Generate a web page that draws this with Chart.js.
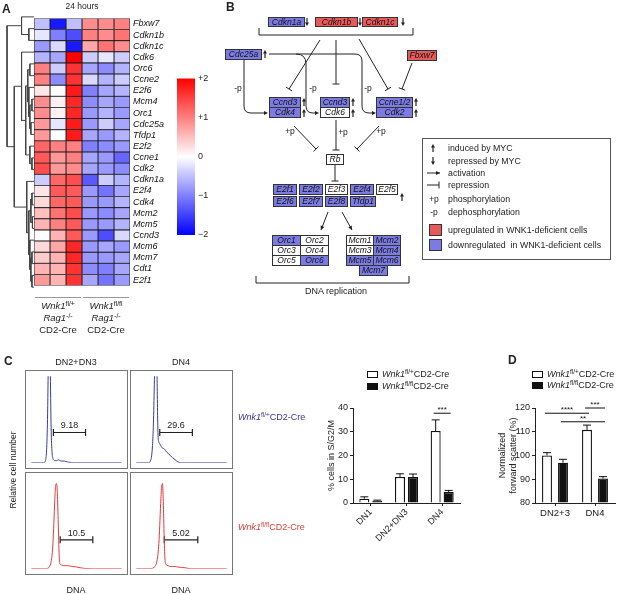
<!DOCTYPE html>
<html>
<head>
<meta charset="utf-8">
<title>WNK1 cell cycle figure</title>
<script src="https://cdn.jsdelivr.net/npm/chart.js@4.4.1/dist/chart.umd.min.js"></script>
<style>
  body { margin: 0; background: #fff; }
  #fig { position: relative; width: 617px; height: 594px; overflow: hidden; font-family: "Liberation Sans", Arial, sans-serif; color: #222; }
  #fig canvas { position: absolute; }
  .t { position: absolute; white-space: nowrap; font-size: 9px; line-height: 1; }
  .t i { font-style: italic; }
  sup { font-size: 0.72em; vertical-align: 0.45em; line-height: 0; }
  .bx { position: absolute; box-sizing: border-box; border: 1px solid #333; font-style: italic; font-size: 8.5px; text-align: center; color: #111; white-space: nowrap; }
  .hbox { position: absolute; box-sizing: border-box; border: 1px solid #777; }
  .sq { position: absolute; box-sizing: border-box; border: 1px solid #111; }
  .rule { position: absolute; border-top: 1.5px solid #999; height: 0; }
</style>
</head>
<body>
<div id="fig">
  <canvas id="dendro" width="28" height="282" style="left:6px;top:11px"></canvas>
  <canvas id="heat" width="157" height="284" style="left:33px;top:10px"></canvas>
  <canvas id="cbar" width="45" height="175" style="left:170px;top:70px"></canvas>

  <div class="hbox" style="left:25px;top:370px;width:103px;height:99px"></div>
  <div class="hbox" style="left:130px;top:370px;width:103px;height:99px"></div>
  <div class="hbox" style="left:25px;top:472px;width:103px;height:103px"></div>
  <div class="hbox" style="left:130px;top:472px;width:103px;height:103px"></div>
  <canvas id="h1" width="101" height="97" style="left:26px;top:371px"></canvas>
  <canvas id="h2" width="101" height="97" style="left:131px;top:371px"></canvas>
  <canvas id="h3" width="101" height="101" style="left:26px;top:473px"></canvas>
  <canvas id="h4" width="101" height="101" style="left:131px;top:473px"></canvas>

  <canvas id="cbars" width="144" height="150" style="left:326px;top:395px"></canvas>
  <canvas id="dbars" width="120" height="130" style="left:497px;top:395px"></canvas>
  <svg id="diag" width="617" height="594" style="position:absolute;left:0;top:0"></svg>
</div>
<script>
/* [ Data ] */
var genes = ['Fbxw7','Cdkn1b','Cdkn1c','Cdk6','Orc6','Ccne2','E2f6','Mcm4','Orc1','Cdc25a','Tfdp1','E2f2',
             'Ccne1','Cdk2','Cdkn1a','E2f4','Cdk4','Mcm2','Mcm5','Ccnd3','Mcm6','Mcm7','Cdt1','E2f1'];
var ctrl1 = [-0.5,-0.2,-0.8,-0.6,1.0,1.0,0.2,0.9,0.9,0.8,0.8,1.2,1.3,1.4,-0.4,0.2,0.3,0.5,0.6,0.0,0.3,0.4,0.6,0.8];
var ctrl2 = [-1.8,-1.0,-0.3,-0.7,-0.4,-0.9,0.0,0.1,0.1,-0.2,0.0,1.0,0.8,0.8,1.2,1.3,1.2,1.1,1.0,0.6,0.7,0.6,0.6,0.6];
var ctrl3 = [-0.5,-1.4,-1.8,2.0,1.6,1.6,1.8,1.7,1.7,1.8,1.8,1.0,1.0,0.9,1.4,1.3,1.3,1.4,1.3,1.3,1.7,1.7,1.6,1.6];
var ko1 = [0.9,1.0,0.7,-0.4,-0.7,-0.3,-1.0,-0.9,-0.8,-0.8,-0.7,-1.0,-0.7,-0.7,-1.3,-0.8,-0.8,-0.8,-0.8,-0.8,-0.8,-0.8,-0.9,-0.7];
var ko2 = [0.9,0.9,1.1,-0.2,-0.9,-0.6,-0.7,-0.7,-0.6,-0.4,-0.8,-0.9,-0.8,-0.8,-0.4,-1.1,-0.8,-0.9,-0.8,-1.4,-0.7,-0.8,-1.0,-1.1];
var ko3 = [1.0,1.1,0.9,-0.4,-0.6,-0.4,-0.6,-0.8,-0.8,-0.7,-0.6,-0.8,-1.2,-0.9,-0.6,-0.7,-0.6,-0.7,-0.6,-0.3,-0.8,-0.7,-0.7,-0.8];
var heatCols = [ctrl1, ctrl2, ctrl3, ko1, ko2, ko3];
// dendrogram: [child A, child B, height]; new nodes numbered from 24
var merges = [[1,2,5],[0,24,12],[4,5,4],[7,8,2],[9,10,3],[27,28,4],[6,29,5],[26,30,6],[12,13,2],[11,32,4],
              [31,33,8],[15,16,2],[17,18,1.5],[35,36,3],[20,21,2],[22,23,2],[38,39,3],[19,40,4],[37,41,5],
              [14,42,7],[3,34,12],[44,43,19],[25,45,26]];
var scaleTicks = [2, 1, 0, -1, -2];

var dnaBins    = [0,10,14,16,17,18,19,20,21,22,23,24,25,26,27,28,29,30,31,32,34,36,38,40,43,46,50,55,60,70,100];
var histCtrl23 = [0,0,0,4,15,50,120,150,110,40,12,5,3,2.5,2.5,2.5,3,3.5,3,2.5,2,2,1.5,1,0.5,0,0,0,0,0,0];
var histCtrl4  = [0,0,0,3,8,20,45,90,140,160,100,35,24,22,20,18,17,16.5,16,14.5,12,10,8,6,3.5,1,0,0,0,0,0];
var histKo23   = [0,0,0,0,0,0.5,1,2,4,8,15,28,50,75,92,94,80,45,12,5,4,3.5,3.5,3.5,3,2.5,2,1,0.3,0,0];
var histKo4    = [0,0,0,0,0.3,0.6,1,2,3,5,9,16,28,48,72,90,94,70,30,8,4,3,2.5,2.5,2.5,2,1.5,1,0,0,0];
var gateLabels = ['9.18', '29.6', '10.5', '5.02'];
var gateStart  = [24.5, 26, 32, 31];
var gateEnd    = [60, 62, 68, 68];
var gateLevel  = [35, 35, 32, 32];

var cGroups = ['DN1', 'DN2+DN3', 'DN4'];
var cCtrl = [1.8, 11, 30.3];
var cCtrlErr = [0.8, 1.3, 4.7];
var cKo = [0.9, 10.9, 4.6];
var cKoErr = [0.3, 1.3, 0.7];
var cSig = [{a: [2, 0], b: [2, 1], y: 37.8, text: '***'}];

var dGroups = ['DN2+3', 'DN4'];
var dCtrl = [100, 110.8];
var dCtrlErr = [1.2, 2];
var dKo = [97, 90.3];
var dKoErr = [1.4, 0.8];
var dSig = [{a: [0, 0], b: [1, 0], y: 117.8, text: '****'},
            {a: [1, 0], b: [1, 1], y: 120, text: '***'},
            {a: [0, 1], b: [1, 1], y: 114.2, text: '**'}];

Chart.defaults.font.family = '"Liberation Sans", Arial, sans-serif';
Chart.defaults.color = '#222';
Chart.defaults.animation = false;
Chart.defaults.plugins.legend.display = false;
Chart.defaults.plugins.tooltip.enabled = false;

var fig = document.getElementById('fig');

function lbl(html, x, y, align, css) {
    var d = document.createElement('div');
    d.className = 't';
    d.innerHTML = html;
    d.style.left = x + 'px';
    d.style.top = y + 'px';
    var tx = align === 'c' ? '-50%' : align === 'r' ? '-100%' : '0';
    d.style.transform = 'translate(' + tx + ',-50%)';
    if (css) d.style.cssText += css;
    fig.appendChild(d);
    return d;
}

/* [ Heatmap ] */
function heatColor(v) {
    var t = Math.max(-1, Math.min(1, v / 2)), c;
    if (t >= 0) {
        c = Math.round(255 * (1 - t));
        return 'rgb(255,' + c + ',' + c + ')';
    }
    c = Math.round(255 * (1 + t));
    return 'rgb(' + c + ',' + c + ',255)';
}

new Chart(document.getElementById('heat'), {
    type: 'bar',
    data: {
        labels: genes,
        datasets: heatCols.map(function (col) {
            return {
                data: col.map(function () { return 1; }),
                backgroundColor: col.map(heatColor),
                borderColor: '#1a1a1a',
                borderWidth: 0.8,
                borderSkipped: false,
                barPercentage: 1,
                categoryPercentage: 1
            };
        })
    },
    options: {
        indexAxis: 'y',
        responsive: false,
        layout: { padding: { top: 1, bottom: 1, left: 1 } },
        scales: {
            x: { stacked: true, display: false, min: 0, max: 6 },
            y: {
                stacked: true, position: 'right',
                grid: { display: false, drawTicks: false }, border: { display: false },
                ticks: { autoSkip: false, padding: 3, color: '#111', font: { size: 9, style: 'italic' } },
                afterFit: function (s) { s.width = 60; }
            }
        }
    }
});

// dendrogram from the merge list
var nodeY = genes.map(function (g, i) { return i; });
var nodeH = genes.map(function () { return 0; });
var dendroSets = merges.map(function (m) {
    var a = m[0], b = m[1], h = m[2];
    var set = {
        data: [{x: nodeH[a], y: nodeY[a]}, {x: h, y: nodeY[a]}, {x: h, y: nodeY[b]}, {x: nodeH[b], y: nodeY[b]}],
        showLine: true, borderColor: '#444', borderWidth: 1, pointRadius: 0, tension: 0
    };
    nodeY.push((nodeY[a] + nodeY[b]) / 2);
    nodeH.push(h);
    return set;
});
new Chart(document.getElementById('dendro'), {
    type: 'scatter',
    data: { datasets: dendroSets },
    options: {
        responsive: false,
        scales: {
            x: { type: 'linear', display: false, min: 0, max: 27, reverse: true },
            y: { display: false, min: -0.5, max: 23.5, reverse: true }
        }
    }
});

// colour key
new Chart(document.getElementById('cbar'), {
    type: 'bar',
    data: {
        labels: [''],
        datasets: [{
            data: [[-2, 2]],
            barPercentage: 1, categoryPercentage: 1,
            backgroundColor: function (ctx) {
                var area = ctx.chart.chartArea;
                if (!area || !isFinite(area.top) || !isFinite(area.bottom)) return '#fff';
                var g = ctx.chart.ctx.createLinearGradient(0, area.bottom, 0, area.top);
                g.addColorStop(0, heatColor(-2));
                g.addColorStop(0.5, heatColor(0));
                g.addColorStop(1, heatColor(2));
                return g;
            }
        }]
    },
    options: {
        responsive: false,
        layout: { padding: { left: 7, top: 8, bottom: 10 } },
        scales: {
            x: { display: false },
            y: {
                position: 'right', min: -2, max: 2,
                grid: { display: false, drawTicks: false }, border: { display: false },
                afterBuildTicks: function (s) { s.ticks = scaleTicks.map(function (v) { return {value: v}; }); },
                ticks: {
                    padding: 3, font: { size: 9 },
                    callback: function (v) { return v > 0 ? '+' + v : v < 0 ? '\u2212' + (-v) : '0'; }
                },
                afterFit: function (s) { s.width = 20; }
            }
        }
    }
});

lbl('A', 2, 9, 'l', 'font-weight:bold;font-size:12px');
lbl('24 hours', 82, 6, 'c', 'font-size:8.5px');
[[35, 46], [83, 46]].forEach(function (r) {
    var d = document.createElement('div');
    d.className = 'rule';
    d.style.left = r[0] + 'px'; d.style.top = '297px'; d.style.width = r[1] + 'px';
    fig.appendChild(d);
});
lbl('<i>Wnk1</i><sup>fl/+</sup>', 58, 306, 'c', 'font-size:9.5px');
lbl('<i>Rag1</i><sup>-/-</sup>', 58, 318, 'c', 'font-size:9.5px');
lbl('CD2-Cre', 58, 330, 'c', 'font-size:9.5px');
lbl('<i>Wnk1</i><sup>fl/fl</sup>', 106, 306, 'c', 'font-size:9.5px');
lbl('<i>Rag1</i><sup>-/-</sup>', 106, 318, 'c', 'font-size:9.5px');
lbl('CD2-Cre', 106, 330, 'c', 'font-size:9.5px');

/* [ Pathway diagram ] */
var BLUE = '#7b7be3', RED = '#e85a5a', WHITE = '#fff';
var diagBoxes = [
    [268,17,37,10,'Cdkn1a',BLUE], [315,17,43,10,'Cdkn1b',RED], [362,17,36,10,'Cdkn1c',RED],
    [225,49,37,11,'Cdc25a',BLUE], [407,50,30,11,'Fbxw7',RED],
    [269,97,32,11,'Ccnd3',BLUE], [269,107,32,11,'Cdk4',BLUE],
    [320,97,30,11,'Ccnd3',BLUE], [320,107,30,11,'Cdk6',WHITE],
    [376,97,37,11,'Ccne1/2',BLUE], [376,107,37,11,'Cdk2',BLUE],
    [326,154,18,11,'Rb',WHITE],
    [273,184,24,11,'E2f1',BLUE], [299,184,24,11,'E2f2',BLUE], [325,184,23,11,'E2f3',WHITE],
    [350,184,24,11,'E2f4',BLUE], [376,184,22,11,'E2f5',WHITE],
    [273,196,24,11,'E2f6',BLUE], [299,196,24,11,'E2f7',BLUE], [325,196,23,11,'E2f8',BLUE],
    [350,196,26,11,'Tfdp1',BLUE],
    [272,235,29,11,'Orc1',BLUE], [300,235,29,11,'Orc2',WHITE],
    [272,245,29,11,'Orc3',WHITE], [300,245,29,11,'Orc4',WHITE],
    [272,255,29,11,'Orc5',WHITE], [300,255,29,11,'Orc6',BLUE],
    [346,235,28,11,'Mcm1',WHITE], [373,235,28,11,'Mcm2',BLUE],
    [346,245,28,11,'Mcm3',WHITE], [373,245,28,11,'Mcm4',BLUE],
    [346,255,28,11,'Mcm5',BLUE], [373,255,28,11,'Mcm6',BLUE],
    [359,265,29,11,'Mcm7',BLUE]
];
diagBoxes.forEach(function (b) {
    var d = document.createElement('div');
    d.className = 'bx';
    d.style.cssText = 'left:' + b[0] + 'px;top:' + b[1] + 'px;width:' + b[2] + 'px;height:' + b[3] +
        'px;line-height:' + (b[3] - 2) + 'px;background:' + b[5];
    d.textContent = b[4];
    fig.appendChild(d);
});

var sv = [];
function ln(x1, y1, x2, y2, w) {
    sv.push('<line x1="' + x1 + '" y1="' + y1 + '" x2="' + x2 + '" y2="' + y2 + '" stroke="#222" stroke-width="' + (w || 1) + '"/>');
}
function pth(d) { sv.push('<path d="' + d + '" fill="none" stroke="#222" stroke-width="1"/>'); }
function head(x, y, ang, l, w) {
    l = l || 4; w = w || 2;
    var c = Math.cos(ang), s = Math.sin(ang);
    sv.push('<polygon fill="#222" points="' + x + ',' + y + ' ' + (x - l * c - w * s) + ',' + (y - l * s + w * c) +
        ' ' + (x - l * c + w * s) + ',' + (y - l * s - w * c) + '"/>');
}
function arr(x1, y1, x2, y2) { ln(x1, y1, x2, y2); head(x2, y2, Math.atan2(y2 - y1, x2 - x1)); }
function tee(x1, y1, x2, y2) {
    ln(x1, y1, x2, y2);
    var dx = x2 - x1, dy = y2 - y1, L = Math.sqrt(dx * dx + dy * dy), px = -dy / L * 3.5, py = dx / L * 3.5;
    ln(x2 - px, y2 - py, x2 + px, y2 + py);
}
function myc(x, y, up) {
    var d = up ? -1 : 1;
    ln(x, y - 4 * d, x, y + 1 * d, 1.2);
    head(x, y + 4 * d, up ? -Math.PI / 2 : Math.PI / 2, 3.5, 2);
}

pth('M259,28 V35 H413 V28');
[[307, 22], [360, 22], [403, 22]].forEach(function (p) { myc(p[0], p[1], false); });
[[265, 54], [304, 102], [304, 113], [353, 102], [353, 113], [416, 102], [416, 113], [402, 197]].forEach(function (p) { myc(p[0], p[1], true); });
tee(320, 40, 289, 89);
tee(336, 40, 336, 84);
tee(359, 39, 388, 89);
tee(412, 63, 402, 89);
pth('M244,60 V106 Q244,113 251,113 H266'); head(268, 113, 0);
pth('M269,54 H355 Q362,54 362,61 V106 Q362,113 369,113 H374'); head(376, 113, 0);
pth('M296,54 Q306,54 306,64 V106 Q306,113 313,113 H317'); head(319, 113, 0);
tee(294, 126, 316, 149);
tee(336, 120, 336, 150);
tee(379, 126, 357, 149);
tee(335, 165, 335, 181);
arr(328, 212, 321, 230);
arr(342, 212, 352, 230);
pth('M256,276 V283 H409 V276');
// legend of the diagram
sv.push('<rect x="422.5" y="138.5" width="188" height="121" fill="none" stroke="#555" stroke-width="1"/>');
myc(433, 148, true);
myc(433, 161, false);
arr(427, 173, 440, 173);
tee(427, 185, 439, 185);
sv.push('<rect x="429.5" y="224.5" width="12" height="11" fill="' + RED + '" stroke="#333"/>');
sv.push('<rect x="429.5" y="239.5" width="12" height="11" fill="' + BLUE + '" stroke="#333"/>');
document.getElementById('diag').innerHTML = sv.join('');

lbl('B', 226, 7, 'l', 'font-weight:bold;font-size:12px');
lbl('-p', 238, 88, 'c', 'font-size:8.5px');
lbl('-p', 313, 88, 'c', 'font-size:8.5px');
lbl('-p', 368, 88, 'c', 'font-size:8.5px');
lbl('+p', 290, 131, 'c', 'font-size:8.5px');
lbl('+p', 343, 132, 'c', 'font-size:8.5px');
lbl('+p', 381, 131, 'c', 'font-size:8.5px');
lbl('DNA replication', 336, 291, 'c');
[['induced by MYC', 148], ['repressed by MYC', 161], ['activation', 173], ['repression', 185],
 ['phosphorylation', 199], ['dephosphorylation', 212], ['upregulated in WNK1-deficient cells', 230],
 ['downregulated &nbsp;in WNK1-deficient cells', 245]].forEach(function (e) {
    lbl(e[0], 448, e[1], 'l', 'font-size:8.8px');
});
lbl('+p', 434, 199, 'c', 'font-size:8.5px');
lbl('-p', 434, 212, 'c', 'font-size:8.5px');

/* [ Histograms ] */
var gateLabelPlugin = {
    id: 'gateLabel',
    afterDatasetsDraw: function (chart) {
        var ctx = chart.ctx, xs = chart.scales.x, ys = chart.scales.y;
        chart.data.datasets.forEach(function (ds) {
            if (!ds.gateText) return;
            var cx = (xs.getPixelForValue(ds.data[0].x) + xs.getPixelForValue(ds.data[1].x)) / 2;
            ctx.save();
            ctx.font = '9px "Liberation Sans", Arial';
            ctx.fillStyle = '#222';
            ctx.textAlign = 'center';
            ctx.textBaseline = 'bottom';
            ctx.fillText(ds.gateText, cx, ys.getPixelForValue(ds.data[0].y) - 2);
            ctx.restore();
        });
    }
};

function histChart(id, values, color, i) {
    new Chart(document.getElementById(id), {
        type: 'scatter',
        data: {
            datasets: [{
                data: dnaBins.map(function (x, k) { return {x: x, y: values[k]}; }),
                showLine: true, borderColor: color, borderWidth: 1, pointRadius: 0,
                cubicInterpolationMode: 'monotone'
            }, {
                data: [{x: gateStart[i], y: gateLevel[i]}, {x: gateEnd[i], y: gateLevel[i]}],
                showLine: true, borderColor: '#222', borderWidth: 1.2,
                pointStyle: 'line', rotation: 90, pointRadius: 3.5,
                pointBorderColor: '#222', pointBorderWidth: 1.2,
                gateText: gateLabels[i]
            }]
        },
        options: {
            responsive: false,
            layout: { padding: { bottom: 1 } },
            scales: {
                x: { type: 'linear', display: false, min: 0, max: 100 },
                y: { display: false, min: 0, max: 100 }
            }
        },
        plugins: [gateLabelPlugin]
    });
}
histChart('h1', histCtrl23, '#3c3ca0', 0);
histChart('h2', histCtrl4, '#3c3ca0', 1);
histChart('h3', histKo23, '#e8383a', 2);
histChart('h4', histKo4, '#e8383a', 3);

lbl('C', 4, 361, 'l', 'font-weight:bold;font-size:12px');
lbl('DN2+DN3', 76, 362, 'c');
lbl('DN4', 181, 362, 'c');
lbl('Relative cell number', 12.5, 470, 'c', 'font-size:8.5px;transform:translate(-50%,-50%) rotate(-90deg)');
lbl('DNA', 76, 590, 'c');
lbl('DNA', 181, 590, 'c');
lbl('<i>Wnk1</i><sup>fl/+</sup>CD2-Cre', 238, 417, 'l', 'color:#35359a');
lbl('<i>Wnk1</i><sup>fl/fl</sup>CD2-Cre', 238, 527, 'l', 'color:#e03a30');

/* [ Bar charts ] */
var errorBarPlugin = {
    id: 'errBars',
    afterDatasetsDraw: function (chart, args, opts) {
        var ctx = chart.ctx, ys = chart.scales.y;
        ctx.save();
        ctx.strokeStyle = '#111';
        ctx.lineWidth = 1;
        chart.data.datasets.forEach(function (ds, di) {
            chart.getDatasetMeta(di).data.forEach(function (bar, k) {
                var top = ys.getPixelForValue(ds.data[k] + ds.errors[k]);
                ctx.beginPath();
                ctx.moveTo(bar.x, bar.y);
                ctx.lineTo(bar.x, top);
                ctx.moveTo(bar.x - 4, top);
                ctx.lineTo(bar.x + 4, top);
                ctx.stroke();
            });
        });
        (opts.sig || []).forEach(function (s) {
            var xa = chart.getDatasetMeta(s.a[1]).data[s.a[0]].x - 2;
            var xb = chart.getDatasetMeta(s.b[1]).data[s.b[0]].x + 2;
            var y = ys.getPixelForValue(s.y);
            ctx.beginPath();
            ctx.moveTo(xa, y);
            ctx.lineTo(xb, y);
            ctx.stroke();
            ctx.font = '8px "Liberation Sans", Arial';
            ctx.fillStyle = '#111';
            ctx.textAlign = 'center';
            ctx.textBaseline = 'bottom';
            ctx.fillText(s.text, (xa + xb) / 2, y + 1);
        });
        ctx.restore();
    }
};

function axisGrid() {
    return { drawOnChartArea: false, offset: false, tickLength: 3, color: '#222' };
}

new Chart(document.getElementById('cbars'), {
    type: 'bar',
    data: {
        labels: cGroups,
        datasets: [
            { data: cCtrl, errors: cCtrlErr, backgroundColor: '#fff', borderColor: '#111', borderWidth: 1.3,
              barPercentage: 0.77, categoryPercentage: 0.73 },
            { data: cKo, errors: cKoErr, backgroundColor: '#111', borderColor: '#111', borderWidth: 1.3,
              barPercentage: 0.77, categoryPercentage: 0.73 }
        ]
    },
    options: {
        responsive: false,
        layout: { padding: { top: 13, right: 10 } },
        plugins: { errBars: { sig: cSig } },
        scales: {
            x: {
                grid: axisGrid(), border: { color: '#222' },
                ticks: { minRotation: 45, maxRotation: 45, padding: 1, font: { size: 9 } },
                afterFit: function (s) { s.height = 42; }
            },
            y: {
                min: 0, max: 40,
                grid: axisGrid(), border: { color: '#222' },
                ticks: { stepSize: 10, padding: 2, font: { size: 9 } },
                title: { display: true, text: '% cells in S/G2/M', font: { size: 9 }, padding: 0 },
                afterFit: function (s) { s.width = 27; }
            }
        }
    },
    plugins: [errorBarPlugin]
});

new Chart(document.getElementById('dbars'), {
    type: 'bar',
    data: {
        labels: dGroups,
        datasets: [
            { data: dCtrl, errors: dCtrlErr, base: 80, backgroundColor: '#fff', borderColor: '#111', borderWidth: 1.3,
              barPercentage: 0.62, categoryPercentage: 0.8 },
            { data: dKo, errors: dKoErr, base: 80, backgroundColor: '#111', borderColor: '#111', borderWidth: 1.3,
              barPercentage: 0.62, categoryPercentage: 0.8 }
        ]
    },
    options: {
        responsive: false,
        layout: { padding: { top: 13, right: 2 } },
        plugins: { errBars: { sig: dSig } },
        scales: {
            x: {
                grid: axisGrid(), border: { color: '#222' },
                ticks: { maxRotation: 0, padding: 2, font: { size: 9.5 } },
                afterFit: function (s) { s.height = 22; }
            },
            y: {
                min: 80, max: 120,
                grid: axisGrid(), border: { color: '#222' },
                ticks: { stepSize: 10, padding: 2, font: { size: 9 } },
                title: { display: true, text: ['Normalized', 'forward scatter (%)'], font: { size: 9 }, padding: 0 },
                afterFit: function (s) { s.width = 38; }
            }
        }
    },
    plugins: [errorBarPlugin]
});

// legends of C and D
function legendRow(x, y, fill, html) {
    var d = document.createElement('div');
    d.className = 'sq';
    d.style.cssText = 'left:' + x + 'px;top:' + (y - 3) + 'px;width:11px;height:7px;background:' + fill;
    fig.appendChild(d);
    lbl(html, x + 15, y, 'l');
}
legendRow(367, 374, '#fff', '<i>Wnk1</i><sup>fl/+</sup>CD2-Cre');
legendRow(367, 386, '#111', '<i>Wnk1</i><sup>fl/fl</sup>CD2-Cre');
legendRow(532, 374, '#fff', '<i>Wnk1</i><sup>fl/+</sup>CD2-Cre');
legendRow(532, 385, '#111', '<i>Wnk1</i><sup>fl/fl</sup>CD2-Cre');
lbl('D', 508, 360, 'l', 'font-weight:bold;font-size:12px');
</script>
</body>
</html>
